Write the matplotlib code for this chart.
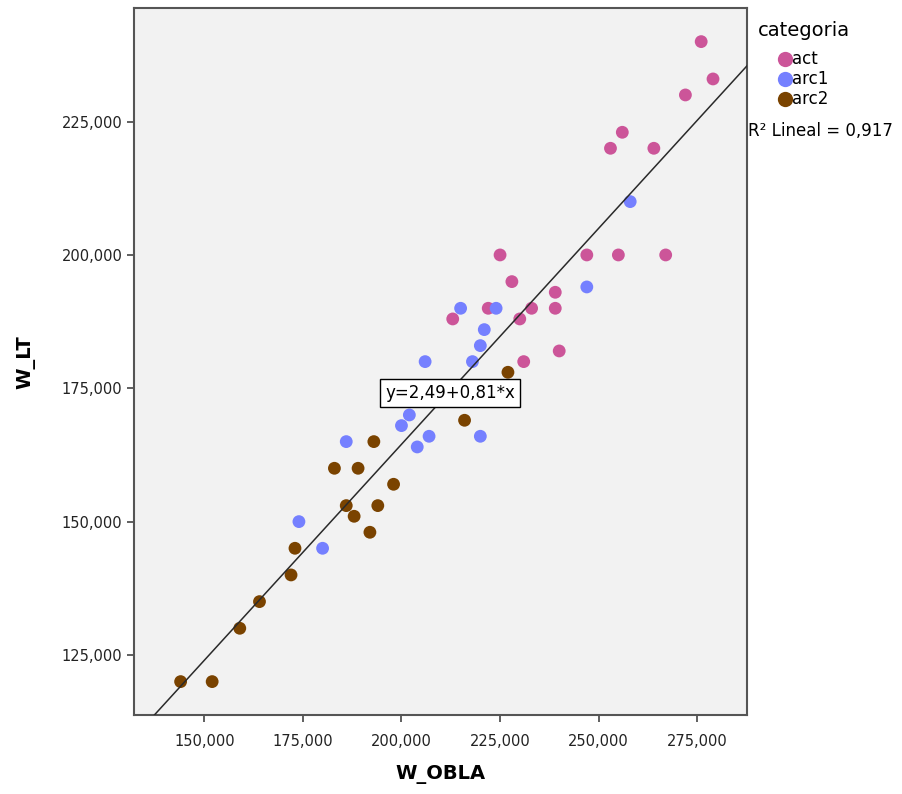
import matplotlib
matplotlib.use("Agg")
import matplotlib.pyplot as plt
from matplotlib.lines import Line2D
from matplotlib.ticker import FuncFormatter
import numpy as np

# W_OBLA / W_LT por categoria
act_x = [276, 279, 272, 256, 253, 264, 225, 247, 255, 267, 228, 239,
         222, 233, 239, 213, 230, 240, 231]
act_y = [240, 233, 230, 223, 220, 220, 200, 200, 200, 200, 195, 193,
         190, 190, 190, 188, 188, 182, 180]

arc1_x = [258, 247, 215, 224, 221, 220, 218, 206, 202, 200, 207, 220,
          204, 186, 174, 180]
arc1_y = [210, 194, 190, 190, 186, 183, 180, 180, 170, 168, 166, 166,
          164, 165, 150, 145]

arc2_x = [216, 193, 183, 189, 198, 186, 194, 188, 192, 173, 172, 164,
          159, 144, 152, 227]
arc2_y = [169, 165, 160, 160, 157, 153, 153, 151, 148, 145, 140, 135,
          130, 120, 120, 178]

groups = ["act", "arc1", "arc2"]
colors = ["#cc5599", "#7580ff", "#7a4300"]

# ajuste lineal mostrado en la etiqueta
intercept = 2.49
slope = 0.81
r2 = 0.917

xticks = [150, 175, 200, 225, 250, 275]
yticks = [125, 150, 175, 200, 225]


def coma(v, pos=None):
    return f"{v:.3f}".replace(".", ",")


W, H = 903, 794
fig = plt.figure(figsize=(W / 100, H / 100), dpi=100)
ax = fig.add_axes([0.1487, 0.0989, 0.6789, 0.891])
ax.set_facecolor("#f2f2f2")

data = [(act_x, act_y), (arc1_x, arc1_y), (arc2_x, arc2_y)]
for (xs, ys), c in zip(data, colors):
    ax.scatter(xs, ys, s=85, color=c, edgecolors="none", zorder=2)

ax.set_xlim(132.25, 287.7)
ax.set_ylim(113.65, 246.3)

# recta de regresion
lx = np.array(ax.get_xlim())
ax.plot(lx, intercept + slope * lx, color="#2a2a2a", lw=1.1, zorder=3)

eq = "y={:.2f}+{:.2f}*x".format(intercept, slope).replace(".", ",")
ax.text(212.3, 174.1, eq, fontsize=12, ha="center", va="center",
        bbox=dict(boxstyle="square,pad=0.3", fc="white", ec="black", lw=1), zorder=4)

ax.set_xticks(xticks)
ax.set_yticks(yticks)
ax.xaxis.set_major_formatter(FuncFormatter(coma))
ax.yaxis.set_major_formatter(FuncFormatter(coma))
ax.tick_params(direction="out", length=5, width=1.2, color="#444444",
               labelsize=10.5, labelcolor="#222222")
ax.tick_params(axis="x", pad=8)
for s in ax.spines.values():
    s.set_color("#555555")
    s.set_linewidth(1.5)

ax.set_xlabel("W_OBLA", fontsize=14, fontweight="bold", labelpad=12)
ax.set_ylabel("W_LT", fontsize=14, fontweight="bold", labelpad=19)

# leyenda a mano, en pixeles de la figura
fig.text(758 / W, 1 - 30 / H, "categoria", fontsize=14, ha="left", va="center")
for i, (g, c) in enumerate(zip(groups, colors)):
    yy = 1 - (59 + 20 * i) / H
    fig.add_artist(Line2D([785 / W], [yy], marker="o", markersize=11,
                          markerfacecolor=c, markeredgecolor="none",
                          transform=fig.transFigure))
    fig.text(792 / W, yy, g, fontsize=12, ha="left", va="center")
fig.text(748 / W, 1 - 131 / H, "R² Lineal = {:.3f}".format(r2).replace(".", ","),
         fontsize=12, ha="left", va="center")

fig.savefig("out.png", dpi=100)
